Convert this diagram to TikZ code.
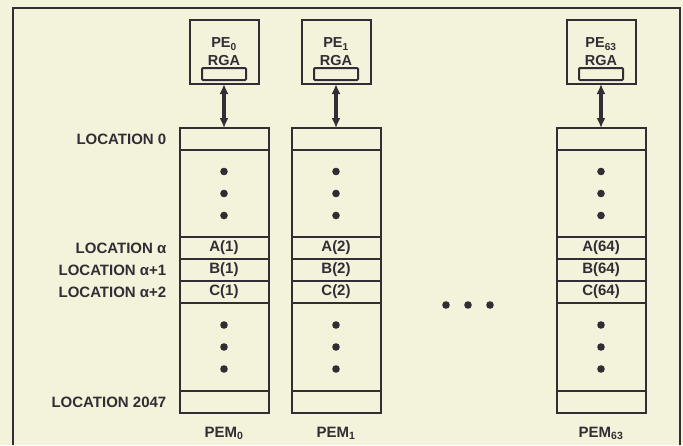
\documentclass[tikz,border=0pt]{standalone}
\usepackage{fontspec}
\setmainfont{Liberation Sans}
\usetikzlibrary{arrows.meta, positioning}
\definecolor{mycream}{RGB}{243,242,219}
\definecolor{myink}{RGB}{52,44,52}
\tikzset{
  cell/.style={rectangle, draw=myink, text=myink,
    minimum width=89pt, minimum height=22pt, inner sep=0pt, outer sep=0pt,
    font=\fontsize{15}{17}\selectfont\bfseries, line width=2pt},
  gapcell/.style={cell, minimum height=87pt,
    path picture={\fill[myink] (path picture bounding box.center) circle[radius=3.8pt]
      +(0,22pt) circle[radius=3.8pt] +(0,-22pt) circle[radius=3.8pt];}},
  pebox/.style={rectangle, draw=myink, text=myink, align=center,
    minimum width=69pt, minimum height=64pt, inner sep=0pt, outer sep=0pt,
    font=\fontsize{14.5}{18}\selectfont\bfseries, line width=2pt},
  reg/.style={rectangle, draw=myink, minimum width=44pt, minimum height=12pt,
    inner sep=0pt, rounded corners=1pt, line width=2pt},
  loclabel/.style={text=myink, inner sep=0pt,
    font=\fontsize{15}{17}\selectfont\bfseries},
  linkarrow/.style={draw=myink, line width=3.5pt,
    {Latex[length=10pt,width=9pt]}-{Latex[length=10pt,width=9pt]}},
  frame/.style={line width=1.8pt, color=myink}
}

\begin{document}
\begin{tikzpicture}[x=1pt, y=-1pt]
\fill[mycream] (0,0) rectangle (683,445);
\useasboundingbox (0,0) rectangle (683,445);
\draw[frame] (13,445) -- (13,8) -- (680,8) -- (680,445);

% PEM 0
\node[cell] (m0top) at (224,139) {};
\node[gapcell, below=0pt of m0top] (m0upper) {};
\node[cell, below=0pt of m0upper] (m0a) {A(1)};
\node[cell, below=0pt of m0a] (m0b) {B(1)};
\node[cell, below=0pt of m0b] (m0c) {C(1)};
\node[gapcell, minimum height=88pt, below=0pt of m0c] (m0lower) {};
\node[cell, below=0pt of m0lower] (m0last) {};

% PEM 1
\node[cell, right=23pt of m0top] (m1top) {};
\node[gapcell, below=0pt of m1top] (m1upper) {};
\node[cell, below=0pt of m1upper] (m1a) {A(2)};
\node[cell, below=0pt of m1a] (m1b) {B(2)};
\node[cell, below=0pt of m1b] (m1c) {C(2)};
\node[gapcell, minimum height=88pt, below=0pt of m1c] (m1lower) {};
\node[cell, below=0pt of m1lower] (m1last) {};

% PEM 63
\node[cell, right=176pt of m1top] (m63top) {};
\node[gapcell, below=0pt of m63top] (m63upper) {};
\node[cell, below=0pt of m63upper] (m63a) {A(64)};
\node[cell, below=0pt of m63a] (m63b) {B(64)};
\node[cell, below=0pt of m63b] (m63c) {C(64)};
\node[gapcell, minimum height=88pt, below=0pt of m63c] (m63lower) {};
\node[cell, below=0pt of m63lower] (m63last) {};

% processing elements
\node[pebox, above=44pt of m0top] (pe0) {PE\textsubscript{0}\\RGA};
\node[pebox, above=44pt of m1top] (pe1) {PE\textsubscript{1}\\RGA};
\node[pebox, above=44pt of m63top] (pe63) {PE\textsubscript{63}\\RGA};
\node[reg] (rga0) at ([yshift=-22pt]pe0.center) {};
\node[reg] (rga1) at ([yshift=-22pt]pe1.center) {};
\node[reg] (rga63) at ([yshift=-22pt]pe63.center) {};

\draw[linkarrow] (pe0.south) -- (m0top.north);
\draw[linkarrow] (pe1.south) -- (m1top.north);
\draw[linkarrow] (pe63.south) -- (m63top.north);

% row labels
\node[loclabel, left=13pt of m0top] (loczero) {LOCATION 0};
\node[loclabel, left=13pt of m0a] (loca) {LOCATION α};
\node[loclabel, left=13pt of m0b] (locb) {LOCATION α+1};
\node[loclabel, left=13pt of m0c] (locc) {LOCATION α+2};
\node[loclabel, left=13pt of m0last] (loclast) {LOCATION 2047};

% module labels
\node[loclabel, below=14pt of m0last] (pem0) {PEM\textsubscript{0}};
\node[loclabel, below=14pt of m1last] (pem1) {PEM\textsubscript{1}};
\node[loclabel, below=14pt of m63last] (pem63) {PEM\textsubscript{63}};

% skipped modules
\fill[myink] (446,305) circle[radius=3.8pt];
\fill[myink] (468,305) circle[radius=3.8pt];
\fill[myink] (490,305) circle[radius=3.8pt];
\end{tikzpicture}
\end{document}
